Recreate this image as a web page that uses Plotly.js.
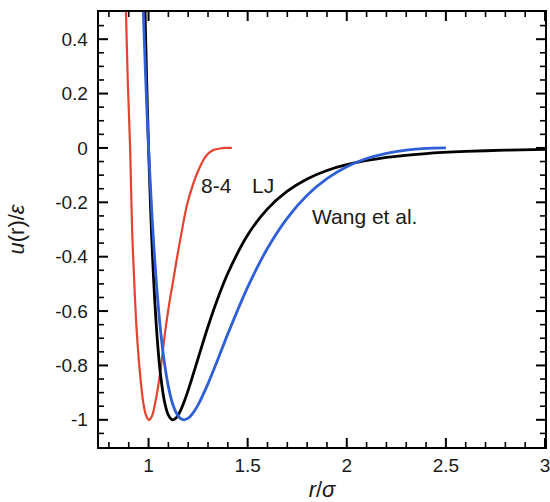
<!DOCTYPE html>
<html>
<head>
<meta charset="utf-8">
<script src="https://cdn.plot.ly/plotly-3.0.1.min.js"></script>
<style>html,body{margin:0;padding:0;background:#fff;}#chart{width:550px;height:502px;}</style>
</head>
<body>
<div id="chart"></div>
<script>
// 8-4 potential (red)
const r84 = [0.880, 0.886, 0.895, 0.907, 0.917, 0.927, 0.940, 0.957, 0.974, 0.988, 1.002, 1.018, 1.033, 1.058, 1.083, 1.105, 1.125, 1.142, 1.168, 1.192, 1.226, 1.250, 1.268, 1.285, 1.302, 1.330, 1.360, 1.390, 1.420];
const u84 = [0.62, 0.50, 0.25, 0.00, -0.30, -0.48, -0.67, -0.83, -0.94, -0.985, -1.00, -0.985, -0.94, -0.83, -0.68, -0.57, -0.485, -0.41, -0.305, -0.215, -0.13, -0.085, -0.056, -0.035, -0.020, -0.007, -0.002, 0.0, 0.0];

// Lennard-Jones (black)
const rLJ = [0.97, 0.98, 0.99, 1.00, 1.01, 1.02, 1.03, 1.04, 1.05, 1.06, 1.08, 1.10, 1.12, 1.14, 1.16, 1.18, 1.20, 1.25, 1.30, 1.35, 1.40, 1.50, 1.60, 1.70, 1.80, 1.90, 2.00, 2.20, 2.40, 2.60, 2.80, 3.00];
const uLJ = [0.963, 0.582, 0.264, 0.0, -0.218, -0.398, -0.544, -0.663, -0.758, -0.832, -0.932, -0.983, -1.000, -0.992, -0.968, -0.933, -0.891, -0.774, -0.657, -0.552, -0.461, -0.320, -0.224, -0.159, -0.114, -0.083, -0.0615, -0.035, -0.0208, -0.0129, -0.0083, -0.0055];

// Wang et al. (blue)
const rW = [0.96, 0.97, 0.98, 0.99, 1.00, 1.02, 1.04, 1.06, 1.08, 1.10, 1.12, 1.14, 1.16, 1.18, 1.20, 1.22, 1.25, 1.30, 1.35, 1.40, 1.50, 1.60, 1.70, 1.80, 1.90, 2.00, 2.10, 2.20, 2.30, 2.40, 2.50];
const uW = [0.829, 0.583, 0.365, 0.171, 0.0, -0.284, -0.502, -0.668, -0.790, -0.878, -0.938, -0.975, -0.995, -1.000, -0.994, -0.979, -0.945, -0.867, -0.777, -0.684, -0.512, -0.369, -0.258, -0.174, -0.113, -0.069, -0.039, -0.0196, -0.0078, -0.0017, 0.0];

// Axes
const xRange = [0.75, 3];
const yRange = [-1.1, 0.5];
const xTickVals = [1, 1.5, 2, 2.5, 3];
const xTickText = ["1", "1.5", "2", "2.5", "3"];
const yTickVals = [-1, -0.8, -0.6, -0.4, -0.2, 0, 0.2, 0.4];
const yTickText = ["-1 ", "-0.8 ", "-0.6 ", "-0.4 ", "-0.2 ", "0 ", "0.2 ", "0.4 "];

// Curve labels
const labelText = ["8-4", "LJ", "Wang et al."];
const labelX = [1.341, 1.578, 2.088];
const labelY = [-0.139, -0.139, -0.253];

// Minor tick positions
const xMinor = [], yMinor = [];
for (let i = 8; i <= 30; i++) { if (i % 5 !== 0) xMinor.push(i / 10); }
for (let i = -21; i <= 9; i++) { if (i % 4 !== 0) yMinor.push(i / 20); }

const W = 550, H = 502, M = {l: 99, r: 5, t: 12, b: 55};
const xPerPx = (xRange[1] - xRange[0]) / (W - M.l - M.r);
const yPerPx = (yRange[1] - yRange[0]) / (H - M.t - M.b);

// Inside tick marks on all four sides, drawn as short line segments
function xTicks(vals, lenPx, w) {
  const x = [], y = [], d = lenPx * yPerPx;
  vals.forEach(v => { x.push(v, v, null, v, v, null); y.push(yRange[0], yRange[0] + d, null, yRange[1], yRange[1] - d, null); });
  return {x: x, y: y, mode: "lines", connectgaps: false, hoverinfo: "skip", line: {color: "#000000", width: w}};
}
function yTicks(vals, lenPx, w) {
  const x = [], y = [], d = lenPx * xPerPx;
  vals.forEach(v => { y.push(v, v, null, v, v, null); x.push(xRange[0], xRange[0] + d, null, xRange[1], xRange[1] - d, null); });
  return {x: x, y: y, mode: "lines", connectgaps: false, hoverinfo: "skip", line: {color: "#000000", width: w}};
}

const traces = [
  xTicks(xTickVals, 9, 2),
  xTicks(xMinor, 5, 1.6),
  yTicks(yTickVals, 9, 2),
  yTicks(yMinor, 5, 1.6),
  {x: r84, y: u84, mode: "lines", line: {color: "#e5432f", width: 2.2, shape: "spline", smoothing: 0.8}, hoverinfo: "skip"},
  {x: rLJ, y: uLJ, mode: "lines", line: {color: "#000000", width: 2.8, shape: "spline", smoothing: 0.8}, hoverinfo: "skip"},
  {x: rW, y: uW, mode: "lines", line: {color: "#2f5fd6", width: 2.8, shape: "spline", smoothing: 0.8}, hoverinfo: "skip"}
];

const tickFont = {family: "Liberation Sans, Arial, sans-serif", size: 19, color: "#1a1a1a"};
const layout = {
  width: W, height: H,
  margin: M,
  paper_bgcolor: "#ffffff", plot_bgcolor: "#ffffff",
  showlegend: false,
  xaxis: {
    range: xRange, tickmode: "array", tickvals: xTickVals, ticktext: xTickText,
    ticks: "", showline: true, linewidth: 2, linecolor: "#000000", mirror: true,
    showgrid: false, zeroline: false, ticklabeloverflow: "allow",
    tickfont: tickFont,
    title: {text: "<i>r</i>/<i>σ</i>", font: {family: "Liberation Sans, Arial, sans-serif", size: 22, color: "#1a1a1a"}, standoff: 8}
  },
  yaxis: {
    range: yRange, tickmode: "array", tickvals: yTickVals, ticktext: yTickText,
    ticks: "", showline: true, linewidth: 2, linecolor: "#000000", mirror: true,
    showgrid: false, zeroline: false,
    tickfont: tickFont,
    title: {text: "<i>u</i>(r)/<i>ε</i>", font: {family: "Liberation Sans, Arial, sans-serif", size: 22, color: "#1a1a1a"}, standoff: 24}
  },
  annotations: labelText.map((t, i) => ({
    x: labelX[i], y: labelY[i], xref: "x", yref: "y", text: t, showarrow: false,
    font: {family: "Liberation Sans, Arial, sans-serif", size: 21, color: "#1a1a1a"}
  }))
};

Plotly.newPlot("chart", traces, layout, {staticPlot: true, displayModeBar: false});
</script>
</body>
</html>
